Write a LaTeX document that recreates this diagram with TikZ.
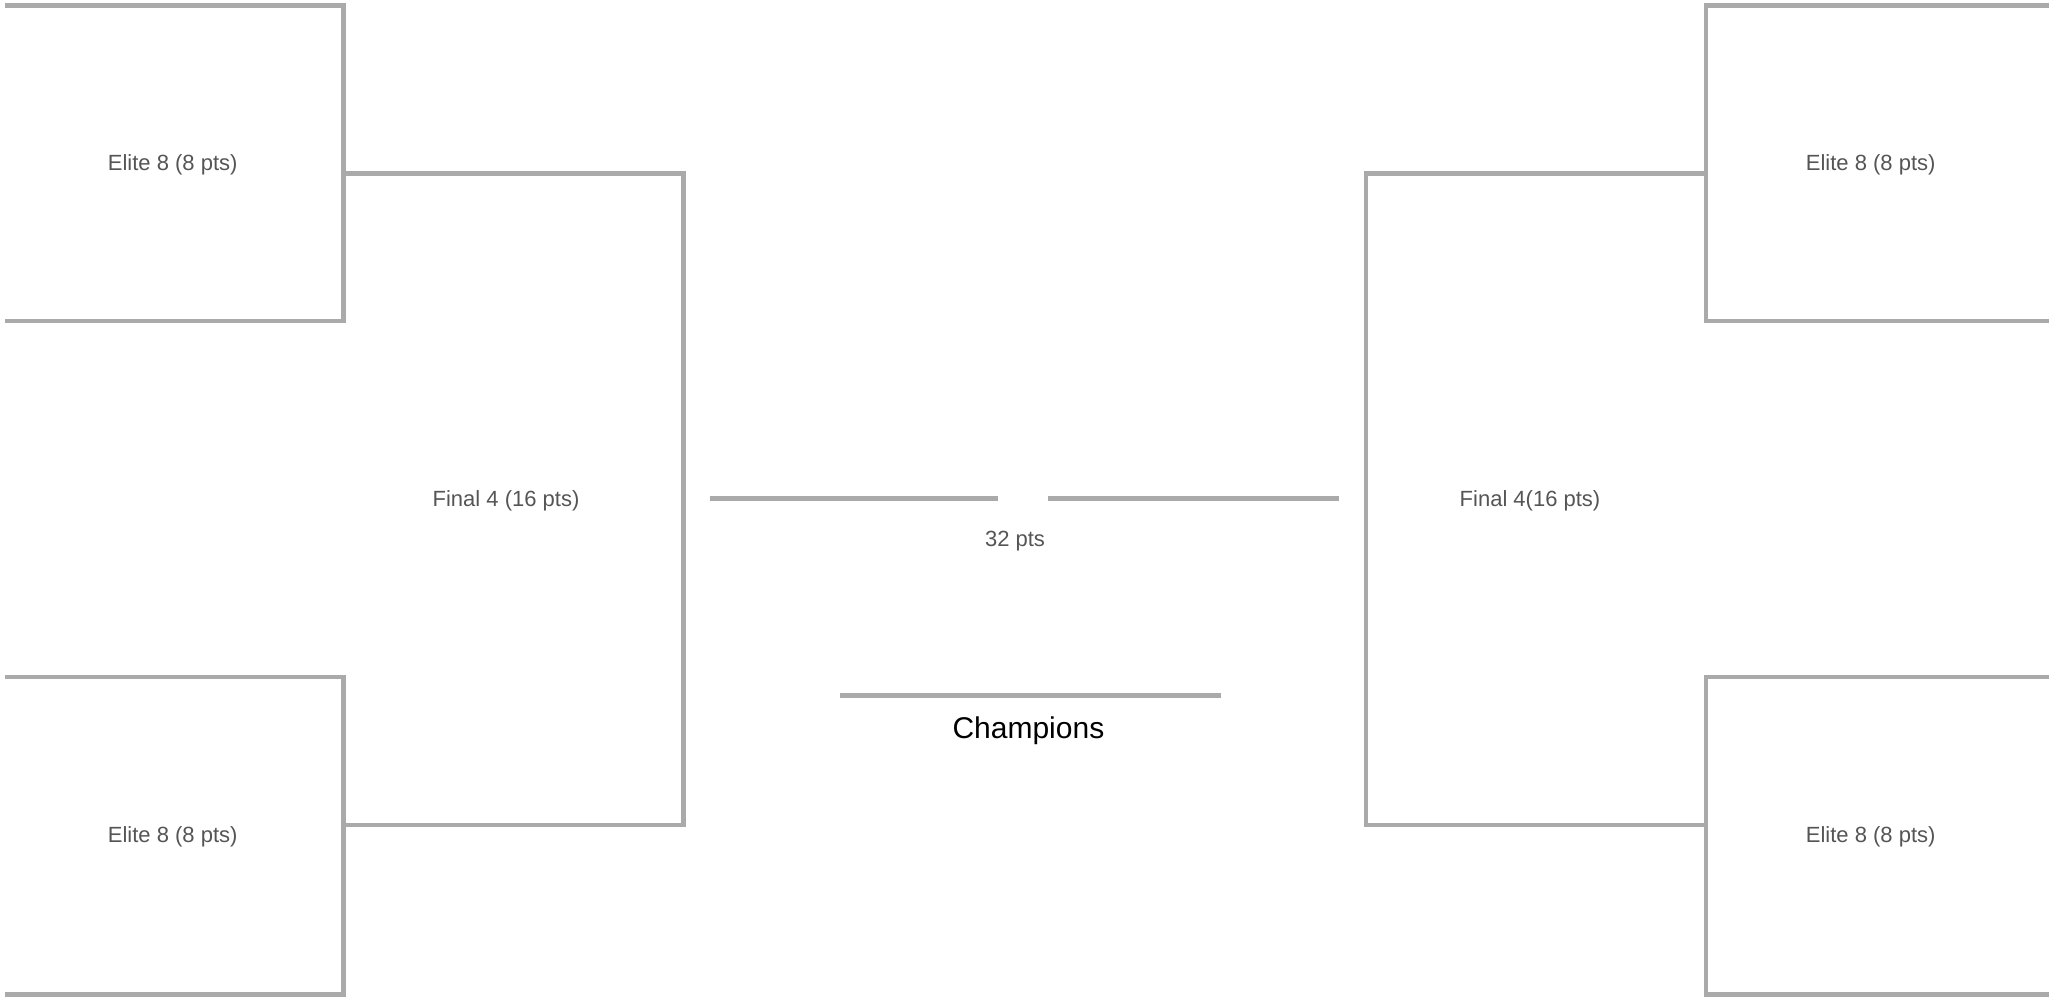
\documentclass[tikz,border=0pt]{standalone}
\usepackage{fontspec}
\setmainfont{Liberation Sans}
\definecolor{linegray}{HTML}{AAAAAA}
\definecolor{labelgray}{HTML}{555555}
\tikzset{
  bracket/.style={draw=linegray, line width=2.3pt, line cap=butt, line join=miter},
  lbl/.style={text=labelgray, font=\fontsize{11}{13}\selectfont, anchor=base, inner sep=0pt},
  champ/.style={text=black, font=\fontsize{15}{18}\selectfont, anchor=base, inner sep=0pt},
}
\begin{document}
\begin{tikzpicture}[x=0.5pt,y=-0.5pt]
\useasboundingbox (0,0) rectangle (2049,997);
% ---- left elite 8 (top)
\coordinate (e1tl) at (5,5.3);
\coordinate (e1tr) at (343.5,5.3);
\coordinate (e1br) at (343.5,321);
\coordinate (e1bl) at (5,321);
% ---- left elite 8 (bottom)
\coordinate (e2tl) at (5,677);
\coordinate (e2tr) at (343.5,677);
\coordinate (e2br) at (343.5,994.5);
\coordinate (e2bl) at (5,994.5);
% ---- left final 4
\coordinate (f1tl) at (343.5,173.5);
\coordinate (f1tr) at (683.5,173.5);
\coordinate (f1br) at (683.5,825);
\coordinate (f1bl) at (343.5,825);
% ---- right final 4
\coordinate (f2tr) at (1706,173.5);
\coordinate (f2tl) at (1366,173.5);
\coordinate (f2bl) at (1366,825);
\coordinate (f2br) at (1706,825);
% ---- right elite 8 (top)
\coordinate (e3tr) at (2049,5.3);
\coordinate (e3tl) at (1706,5.3);
\coordinate (e3bl) at (1706,321);
\coordinate (e3br) at (2049,321);
% ---- right elite 8 (bottom)
\coordinate (e4tr) at (2049,677);
\coordinate (e4tl) at (1706,677);
\coordinate (e4bl) at (1706,994.5);
\coordinate (e4br) at (2049,994.5);
% ---- centre lines
\coordinate (cl1) at (709.6,498.5);
\coordinate (cl2) at (998,498.5);
\coordinate (cr1) at (1047.5,498.5);
\coordinate (cr2) at (1339,498.5);
\coordinate (ch1) at (840,695.3);
\coordinate (ch2) at (1220.5,695.3);

\draw[bracket] (e1tl) -- (e1tr) -- (e1br) -- (e1bl);
\draw[bracket] (e2tl) -- (e2tr) -- (e2br) -- (e2bl);
\draw[bracket] (f1tl) -- (f1tr) -- (f1br) -- (f1bl);
\draw[bracket] (f2tr) -- (f2tl) -- (f2bl) -- (f2br);
\draw[bracket] (e3tr) -- (e3tl) -- (e3bl) -- (e3br);
\draw[bracket] (e4tr) -- (e4tl) -- (e4bl) -- (e4br);
\draw[bracket] (cl1) -- (cl2);
\draw[bracket] (cr1) -- (cr2);
\draw[bracket] (ch1) -- (ch2);

% ---- labels
\node[lbl] (t1) at (172.7,170) {Elite 8 (8 pts)};
\node[lbl] (t2) at (172.7,842.7) {Elite 8 (8 pts)};
\node[lbl] (t3) at (506,506.5) {Final 4 (16 pts)};
\node[lbl] (t4) at (1530,506.5) {Final 4(16 pts)};
\node[lbl] (t5) at (1870.7,170) {Elite 8 (8 pts)};
\node[lbl] (t6) at (1870.7,842.7) {Elite 8 (8 pts)};
\node[lbl] (t7) at (1015,546.7) {32 pts};
\node[champ] (t8) at (1028.4,738.3) {Champions};
\end{tikzpicture}
\end{document}
